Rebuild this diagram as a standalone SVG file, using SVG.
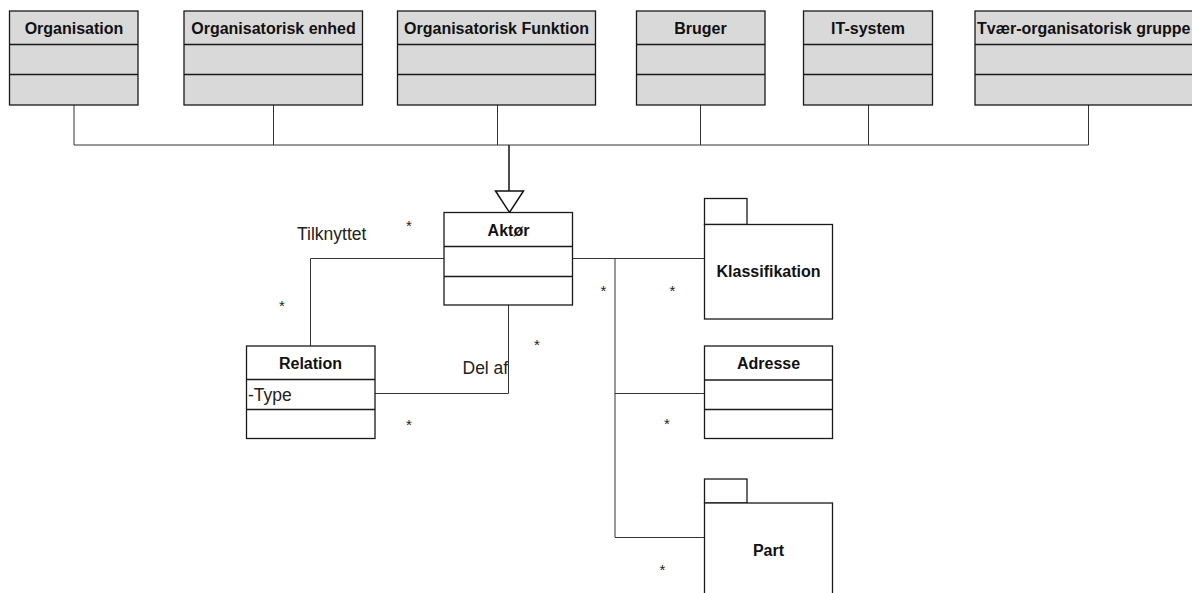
<svg xmlns="http://www.w3.org/2000/svg" width="1192" height="593" viewBox="0 0 1192 593">
<style>
.box{fill:#d9d9d9;stroke:#1a1a1a;stroke-width:1.3}
.wbox{fill:#ffffff;stroke:#1a1a1a;stroke-width:1.3}
.ln{fill:none;stroke:#333;stroke-width:1}
.t{font-family:"Liberation Sans",Arial,sans-serif;font-size:16px;font-weight:bold;fill:#111;text-anchor:middle;dominant-baseline:central}
.l{font-family:"Liberation Sans",Arial,sans-serif;font-size:17.5px;fill:#222;dominant-baseline:central}
.s{font-family:"Liberation Sans",Arial,sans-serif;font-size:15px;fill:#222;text-anchor:middle;dominant-baseline:central}
</style>
<rect width="1192" height="593" fill="#fff"/>
<g id="connectors">
<polyline class="ln" points="74,105 74,145 1088.5,145 1088.5,105"/>
<line class="ln" x1="273.5" y1="105" x2="273.5" y2="145"/>
<line class="ln" x1="497.5" y1="105" x2="497.5" y2="145"/>
<line class="ln" x1="700.5" y1="105" x2="700.5" y2="145"/>
<line class="ln" x1="868.5" y1="105" x2="868.5" y2="145"/>
<line x1="509" y1="145" x2="509" y2="191" stroke="#111" stroke-width="1.5"/>
<polygon points="495.5,191 523.5,191 509.5,212.5" fill="#fff" stroke="#111" stroke-width="1.5"/>
<polyline class="ln" points="444,258.5 310.5,258.5 310.5,346"/>
<polyline class="ln" points="375,393.5 508.5,393.5 508.5,305"/>
<polyline class="ln" points="573,258.5 704,258.5"/>
<polyline class="ln" points="615,258.5 615,537.5 704,537.5"/>
<line class="ln" x1="615" y1="393.5" x2="704" y2="393.5"/>
<text class="l" x="297" y="234">Tilknyttet</text>
<text class="s" x="409" y="225">*</text>
<text class="s" x="282" y="305">*</text>
<text class="l" x="462.5" y="368">Del af</text>
<text class="s" x="537" y="344">*</text>
<text class="s" x="409" y="424">*</text>
<text class="s" x="603.5" y="290">*</text>
<text class="s" x="672.5" y="290">*</text>
<text class="s" x="667" y="423">*</text>
<text class="s" x="662.5" y="569">*</text>
</g>
<g id="organisation">
<rect class="box" x="9.5" y="11" width="128.5" height="94"/>
<line class="box" x1="9.5" y1="44.5" x2="138" y2="44.5"/>
<line class="box" x1="9.5" y1="74.5" x2="138" y2="74.5"/>
<text class="t" x="74" y="28">Organisation</text>
</g>
<g id="org-enhed">
<rect class="box" x="184" y="11" width="178.5" height="94"/>
<line class="box" x1="184" y1="44.5" x2="362.5" y2="44.5"/>
<line class="box" x1="184" y1="74.5" x2="362.5" y2="74.5"/>
<text class="t" x="273.5" y="28">Organisatorisk enhed</text>
</g>
<g id="org-funktion">
<rect class="box" x="397.5" y="11" width="198" height="94"/>
<line class="box" x1="397.5" y1="44.5" x2="595.5" y2="44.5"/>
<line class="box" x1="397.5" y1="74.5" x2="595.5" y2="74.5"/>
<text class="t" x="496.5" y="28">Organisatorisk Funktion</text>
</g>
<g id="bruger">
<rect class="box" x="636.5" y="11" width="128.5" height="94"/>
<line class="box" x1="636.5" y1="44.5" x2="765" y2="44.5"/>
<line class="box" x1="636.5" y1="74.5" x2="765" y2="74.5"/>
<text class="t" x="700.5" y="28">Bruger</text>
</g>
<g id="it-system">
<rect class="box" x="803.5" y="11" width="129" height="94"/>
<line class="box" x1="803.5" y1="44.5" x2="932.5" y2="44.5"/>
<line class="box" x1="803.5" y1="74.5" x2="932.5" y2="74.5"/>
<text class="t" x="868" y="28">IT-system</text>
</g>
<g id="tvaer">
<rect class="box" x="975" y="11" width="230" height="94"/>
<line class="box" x1="975" y1="44.5" x2="1205" y2="44.5"/>
<line class="box" x1="975" y1="74.5" x2="1205" y2="74.5"/>
<text class="t" x="977" y="28" style="text-anchor:start">Tvær-organisatorisk gruppe</text>
</g>
<g id="aktor">
<rect class="wbox" x="444" y="212.5" width="128.5" height="92.5"/>
<line class="wbox" x1="444" y1="246.5" x2="572.5" y2="246.5"/>
<line class="wbox" x1="444" y1="276.5" x2="572.5" y2="276.5"/>
<text class="t" x="508.5" y="230">Aktør</text>
</g>
<g id="relation">
<rect class="wbox" x="246.5" y="346" width="128.5" height="92.5"/>
<line class="wbox" x1="246.5" y1="379.5" x2="375" y2="379.5"/>
<line class="wbox" x1="246.5" y1="409.5" x2="375" y2="409.5"/>
<text class="t" x="310.5" y="363">Relation</text>
<text class="l" x="248" y="395">-Type</text>
</g>
<g id="klassifikation">
<rect class="wbox" x="704.5" y="198.5" width="42.5" height="26"/>
<rect class="wbox" x="704.5" y="224.5" width="128" height="94.5"/>
<text class="t" x="768.5" y="271">Klassifikation</text>
</g>
<g id="adresse">
<rect class="wbox" x="704.5" y="346" width="128" height="92.5"/>
<line class="wbox" x1="704.5" y1="380" x2="832.5" y2="380"/>
<line class="wbox" x1="704.5" y1="409.5" x2="832.5" y2="409.5"/>
<text class="t" x="768.5" y="363">Adresse</text>
</g>
<g id="part">
<rect class="wbox" x="704.5" y="479" width="42.5" height="24"/>
<rect class="wbox" x="704.5" y="503" width="128" height="100"/>
<text class="t" x="768.5" y="550">Part</text>
</g>
</svg>
